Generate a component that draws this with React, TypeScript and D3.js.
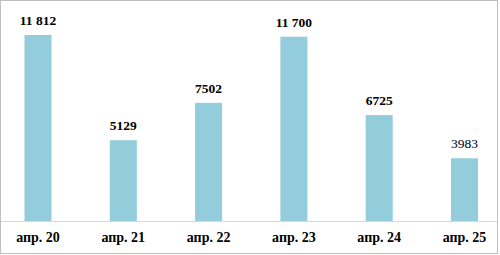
import React from "react";
import * as d3 from "d3";

const categories: string[] = ["апр. 20", "апр. 21", "апр. 22", "апр. 23", "апр. 24", "апр. 25"];
const values: number[] = [11812, 5129, 7502, 11700, 6725, 3983];
const valueLabels: string[] = ["11 812", "5129", "7502", "11 700", "6725", "3983"];
const boldLabel: boolean[] = [true, true, true, true, true, false];

export default function App() {
  const W = 500;
  const H = 255;
  const baseY = 221;
  const x = d3
    .scaleBand<string>()
    .domain(categories)
    .range([-4.65, 507.15])
    .paddingInner(0.683)
    .paddingOuter(0.3415);
  const y = d3.scaleLinear().domain([0, 14000]).range([baseY, 0.5]);
  const font = "Liberation Serif, Times New Roman, Times, serif";
  return (
    <svg
      width={W}
      height={H}
      style={{ position: "absolute", left: 0, top: 0, display: "block", fontFamily: font }}
    >
      <rect x={0} y={0} width={W} height={H} fill="#ffffff" />
      <rect x={0.5} y={0.5} width={497} height={253} fill="none" stroke="#bfbfbf" strokeWidth={1} />
      {categories.map((c, i) => (
        <rect
          key={c}
          x={x(c)!}
          y={y(values[i])}
          width={x.bandwidth()}
          height={baseY - y(values[i])}
          fill="#93CDDC"
        />
      ))}
      <line x1={1} x2={497} y1={baseY + 0.5} y2={baseY + 0.5} stroke="#d9d9d9" strokeWidth={1} />
      {categories.map((c, i) => (
        <text
          key={"v" + c}
          x={x(c)! + x.bandwidth() / 2}
          y={y(values[i]) - 10}
          textAnchor="middle"
          style={{ fontFamily: font, fontSize: "13.5px", fontWeight: boldLabel[i] ? 700 : 400 }}
          fill="#000"
        >
          {valueLabels[i]}
        </text>
      ))}
      {categories.map((c) => (
        <text
          key={"c" + c}
          x={x(c)! + x.bandwidth() / 2}
          y={241.5}
          textAnchor="middle"
          style={{ fontFamily: font, fontSize: "14px", fontWeight: 700 }}
          fill="#000"
        >
          {c}
        </text>
      ))}
    </svg>
  );
}
